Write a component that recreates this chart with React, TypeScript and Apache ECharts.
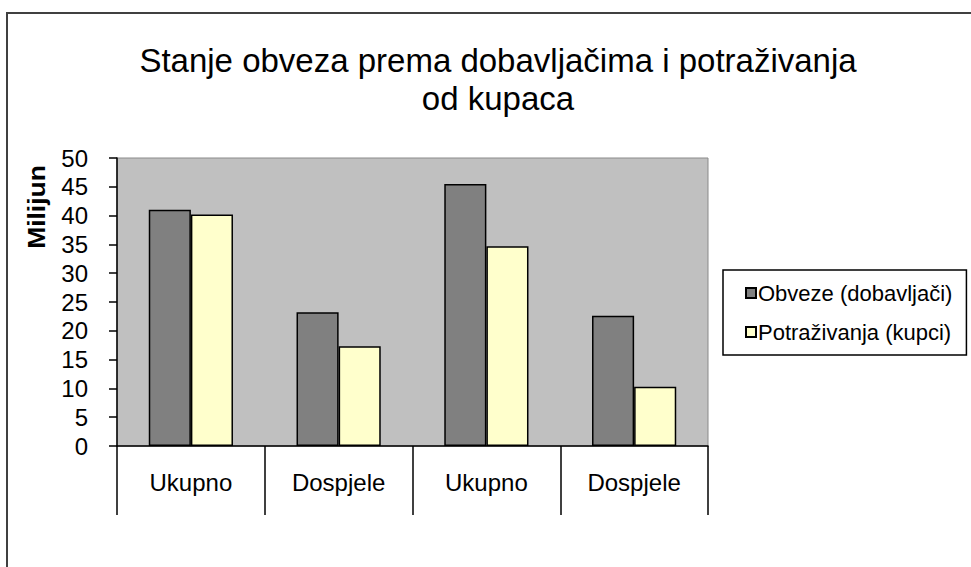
import React, { useEffect, useRef } from "react";
import * as echarts from "echarts";

const categories = ["Ukupno", "Dospjele", "Ukupno", "Dospjele"];
const obveze = [41.0, 23.2, 45.5, 22.6];
const potrazivanja = [40.2, 17.3, 34.7, 10.3];
const seriesNames = ["Obveze (dobavljači)", "Potraživanja (kupci)"];
const titleText = "Stanje obveza prema dobavljačima i potraživanja\nod kupaca";
const yName = "Milijun";

const FONT = "'Liberation Sans', Arial, sans-serif";

export default function App() {
  const ref = useRef<HTMLDivElement>(null);
  useEffect(() => {
    document.body.style.margin = "0";
    const chart = echarts.init(ref.current!, undefined, { renderer: "svg" });
    chart.setOption({
      animation: false,
      backgroundColor: "#ffffff",
      textStyle: { fontFamily: FONT },
      title: {
        text: titleText,
        left: 493,
        top: 36,
        textAlign: "center",
        textStyle: { fontFamily: FONT, fontSize: 33, fontWeight: "normal", color: "#000", lineHeight: 38 },
      },
      graphic: [
        {
          type: "rect",
          shape: { x: 7, y: 13, width: 1000, height: 600 },
          style: { fill: "none", stroke: "#404040", lineWidth: 2 },
          silent: true,
        },
        {
          type: "text",
          x: 37,
          y: 207,
          rotation: Math.PI / 2,
          scaleX: 1.15,
          style: {
            text: yName,
            fontFamily: FONT,
            fontSize: 23,
            fontWeight: "bold",
            fill: "#000",
            align: "center",
            verticalAlign: "middle",
          },
        },
      ],
      legend: {
        orient: "vertical",
        left: 723,
        top: 270,
        width: 240,
        padding: [12, 14, 12, 22],
        itemGap: 17,
        itemWidth: 10,
        itemHeight: 10,
        icon: "rect",
        borderColor: "#000",
        borderWidth: 1.5,
        backgroundColor: "#fff",
        textStyle: { fontFamily: FONT, fontSize: 22, color: "#000", lineHeight: 22, padding: [0, 0, 0, -3] },
        data: seriesNames,
      },
      grid: {
        left: 117,
        top: 158,
        right: 263,
        bottom: 121,
        show: true,
        backgroundColor: "#c0c0c0",
        borderColor: "#8a8a8a",
        borderWidth: 1,
      },
      xAxis: {
        type: "category",
        data: categories,
        axisLine: { lineStyle: { color: "#000", width: 1.5 } },
        axisTick: { show: true, length: 69, lineStyle: { color: "#000", width: 1.5 } },
        axisLabel: { fontFamily: FONT, fontSize: 24, color: "#000", margin: 24 },
        splitLine: { show: false },
      },
      yAxis: {
        type: "value",
        min: 0,
        max: 50,
        interval: 5,
        axisLine: { show: true, lineStyle: { color: "#000", width: 1.5 } },
        axisTick: { show: true, length: 8, lineStyle: { color: "#000", width: 1.5 } },
        axisLabel: { fontFamily: FONT, fontSize: 24, color: "#000", margin: 29 },
        splitLine: { show: false },
      },
      series: [
        {
          name: seriesNames[0],
          type: "bar",
          data: obveze,
          barGap: "0%",
          barCategoryGap: "43%",
          itemStyle: { color: "#808080", borderColor: "#000", borderWidth: 1.5 },
        },
        {
          name: seriesNames[1],
          type: "bar",
          data: potrazivanja,
          barGap: "0%",
          barCategoryGap: "43%",
          itemStyle: { color: "#ffffcc", borderColor: "#000", borderWidth: 1.5 },
        },
      ],
    });
    return () => chart.dispose();
  }, []);
  return <div ref={ref} style={{ width: 971, height: 567 }} />;
}
